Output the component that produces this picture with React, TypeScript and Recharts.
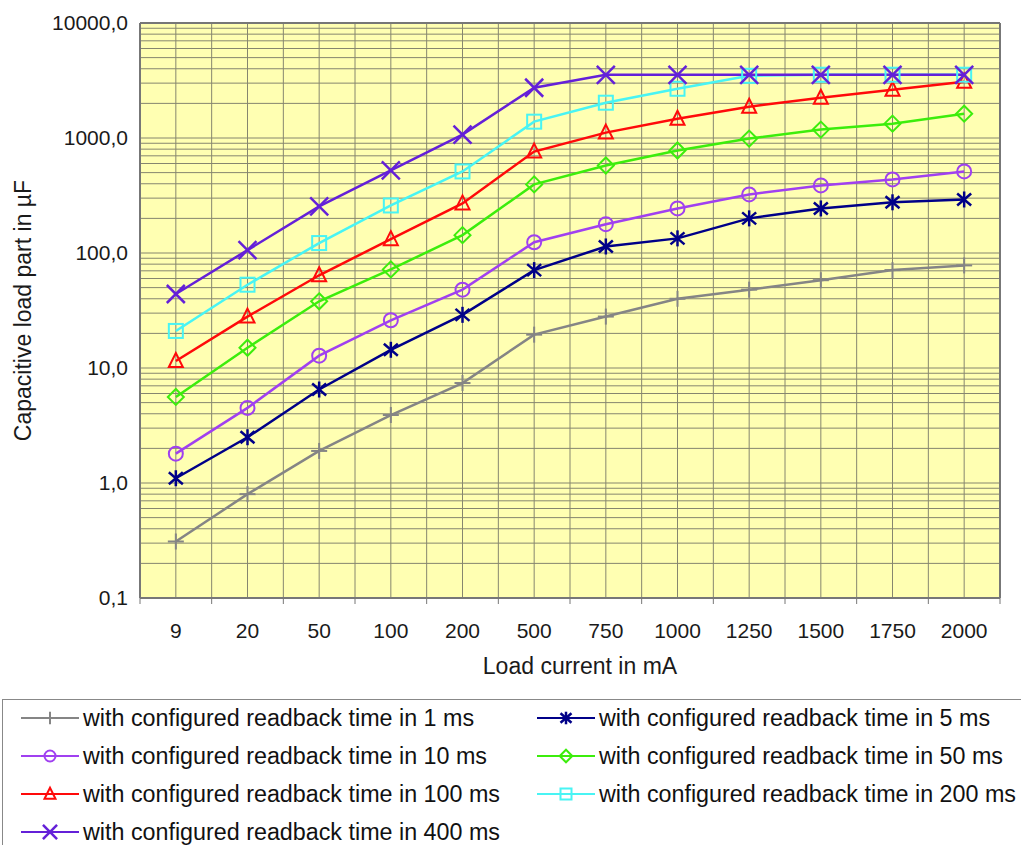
import React from "react";
import {
  CartesianGrid,
  Label,
  Line,
  LineChart,
  ReferenceLine,
  XAxis,
  YAxis,
} from "recharts";

// load current (mA) categories on the x axis
const CURRENTS = ["9", "20", "50", "100", "200", "500", "750", "1000", "1250", "1500", "1750", "2000"];

// capacitive load part in µF, one list per configured readback time
const T1MS = [0.31, 0.8, 1.9, 3.9, 7.4, 19.5, 28, 40, 48, 58, 71, 78];
const T5MS = [1.1, 2.5, 6.5, 14.4, 29, 71, 114, 134, 200, 244, 276, 292];
const T10MS = [1.8, 4.5, 12.8, 26, 48, 124, 178, 244, 323, 387, 436, 512];
const T50MS = [5.6, 15, 38, 72, 143, 395, 577, 778, 988, 1183, 1333, 1627];
const T100MS = [11.5, 28, 64, 132, 270, 762, 1114, 1472, 1871, 2239, 2626, 3080];
const T200MS = [21, 53, 122, 259, 512, 1387, 2027, 2680, 3474, 3550, 3550, 3550];
const T400MS = [44, 106, 254, 522, 1070, 2735, 3540, 3540, 3540, 3540, 3540, 3540];

// labelled decades and the log grid between them
const Y_LABELS = [0.1, 1, 10, 100, 1000, 10000];
const Y_GRID = [0.1, 1, 10, 100, 1000]
  .flatMap((d) => [1, 2, 3, 4, 5, 6, 7, 8, 9].map((m) => +(m * d).toPrecision(3)))
  .concat(10000);
// x ticks: category centres (labelled) and the boundaries between them
const X_TICKS = CURRENTS.flatMap((_, i) => [i - 0.5, i]).concat(CURRENTS.length - 0.5);

type Kind = "plus" | "star" | "circle" | "diamond" | "triangle" | "square" | "x";

const SERIES: { key: string; label: string; color: string; kind: Kind; values: number[] }[] = [
  { key: "t1", label: "with configured readback time in 1 ms", color: "#858585", kind: "plus", values: T1MS },
  { key: "t5", label: "with configured readback time in 5 ms", color: "#000088", kind: "star", values: T5MS },
  { key: "t10", label: "with configured readback time in 10 ms", color: "#a040f0", kind: "circle", values: T10MS },
  { key: "t50", label: "with configured readback time in 50 ms", color: "#3ced0c", kind: "diamond", values: T50MS },
  { key: "t100", label: "with configured readback time in 100 ms", color: "#ff0a0a", kind: "triangle", values: T100MS },
  { key: "t200", label: "with configured readback time in 200 ms", color: "#48f4f4", kind: "square", values: T200MS },
  { key: "t400", label: "with configured readback time in 400 ms", color: "#6420d8", kind: "x", values: T400MS },
];

const data = CURRENTS.map((c, i) => {
  const row: Record<string, number | string> = { idx: i, current: c };
  SERIES.forEach((s) => (row[s.key] = s.values[i]));
  return row;
});

const FONT = '"Liberation Sans", Arial, sans-serif';
const PLOT_BG = "#ffffb2";
const GRID = "#86866f";
const FRAME = "#777";

function Marker({ kind, cx, cy, color, r = 7 }: { kind: Kind; cx: number; cy: number; color: string; r?: number }) {
  const p = { stroke: color, strokeWidth: 2, fill: "none" };
  const k = r / 7;
  switch (kind) {
    case "plus":
      return (
        <g {...p}>
          <line x1={cx - 8 * k} y1={cy} x2={cx + 8 * k} y2={cy} />
          <line x1={cx} y1={cy - 8 * k} x2={cx} y2={cy + 8 * k} />
        </g>
      );
    case "star":
      return (
        <g {...p} strokeWidth={2.5}>
          <line x1={cx} y1={cy - 8 * k} x2={cx} y2={cy + 8 * k} />
          <line x1={cx - 7 * k} y1={cy - 6 * k} x2={cx + 7 * k} y2={cy + 6 * k} />
          <line x1={cx - 7 * k} y1={cy + 6 * k} x2={cx + 7 * k} y2={cy - 6 * k} />
        </g>
      );
    case "circle":
      return <circle cx={cx} cy={cy} r={r} {...p} />;
    case "diamond":
      return (
        <polygon
          points={`${cx},${cy - 8 * k} ${cx + 8 * k},${cy} ${cx},${cy + 8 * k} ${cx - 8 * k},${cy}`}
          {...p}
        />
      );
    case "triangle":
      return <polygon points={`${cx},${cy - 8 * k} ${cx + 7 * k},${cy + 6 * k} ${cx - 7 * k},${cy + 6 * k}`} {...p} />;
    case "square":
      return <rect x={cx - r} y={cy - r} width={2 * r} height={2 * r} {...p} />;
    case "x":
      return (
        <g {...p} strokeWidth={2.5}>
          <line x1={cx - 9 * k} y1={cy - 9 * k} x2={cx + 9 * k} y2={cy + 9 * k} />
          <line x1={cx - 9 * k} y1={cy + 9 * k} x2={cx + 9 * k} y2={cy - 9 * k} />
        </g>
      );
  }
  return null;
}

function XTick(props: any) {
  const { x, y, payload } = props;
  const v = payload.value as number;
  if (!Number.isInteger(v)) {
    // boundary tick mark under the axis
    return <line x1={x} y1={y - 8} x2={x} y2={y - 2} stroke={FRAME} strokeWidth={1} />;
  }
  return (
    <text x={x} y={y + 32} textAnchor="middle" fontSize={21} fontFamily={FONT} fill="#1a1a1a">
      {CURRENTS[v]}
    </text>
  );
}

function fmtY(v: number) {
  return Y_LABELS.includes(v) ? v.toFixed(1).replace(".", ",") : "";
}

export default function App() {
  return (
    <div style={{ position: "absolute", left: 0, top: 0, width: 1021, height: 845, background: "#fff", overflow: "hidden" }}>
      <LineChart width={1021} height={690} data={data} margin={{ top: 23, right: 21, bottom: 0, left: 0 }}>
        <CartesianGrid fill={PLOT_BG} stroke={GRID} strokeWidth={1} />
        <XAxis
          dataKey="idx"
          type="number"
          domain={[-0.5, CURRENTS.length - 0.5]}
          ticks={X_TICKS}
          interval={0}
          tick={<XTick />}
          tickLine={false}
          tickSize={6}
          tickMargin={2}
          height={92}
          axisLine={{ stroke: FRAME, strokeWidth: 2 }}
        >
          <Label
            content={({ viewBox }: any) => (
              <text
                x={viewBox.x + viewBox.width / 2 + 10}
                y={viewBox.y + 76}
                textAnchor="middle"
                fontSize={23}
                fontFamily={FONT}
                fill="#1a1a1a"
              >
                Load current in mA
              </text>
            )}
          />
        </XAxis>
        <YAxis
          scale="log"
          domain={[0.1, 10000]}
          allowDataOverflow
          ticks={Y_GRID}
          interval={0}
          tickFormatter={fmtY}
          tick={{ fontSize: 21, fontFamily: FONT, fill: "#1a1a1a" }}
          tickLine={false}
          tickSize={4}
          tickMargin={8}
          width={140}
          axisLine={{ stroke: FRAME, strokeWidth: 2 }}
        >
          <Label
            content={({ viewBox }: any) => {
              const cx = viewBox.x + 23;
              const cy = viewBox.y + viewBox.height / 2;
              return (
                <text
                  x={cx}
                  y={cy}
                  transform={`rotate(-90 ${cx} ${cy})`}
                  textAnchor="middle"
                  dominantBaseline="central"
                  fontSize={23}
                  fontFamily={FONT}
                  fill="#1a1a1a"
                >
                  Capacitive load part in µF
                </text>
              );
            }}
          />
        </YAxis>
        <ReferenceLine y={10000} stroke={FRAME} strokeWidth={2} />
        <ReferenceLine x={CURRENTS.length - 0.5} stroke={FRAME} strokeWidth={2} />
        {SERIES.map((s) => (
          <Line
            key={s.key}
            dataKey={s.key}
            stroke={s.color}
            strokeWidth={2.5}
            isAnimationActive={false}
            dot={(p: any) => <Marker key={`${s.key}-${p.index}`} kind={s.kind} cx={p.cx} cy={p.cy} color={s.color} />}
            activeDot={false}
          />
        ))}
      </LineChart>

      <div
        style={{
          position: "absolute",
          left: 2,
          top: 699,
          width: 1040,
          height: 170,
          borderTop: "1.5px solid #888",
          borderLeft: "1.5px solid #888",
          fontFamily: FONT,
          fontSize: 23.3,
          color: "#111",
        }}
      >
        {SERIES.map((s, i) => {
          const col = i % 2;
          const row = Math.floor(i / 2);
          return (
            <div
              key={s.key}
              style={{
                position: "absolute",
                left: col === 0 ? 16 : 532,
                top: 18 + row * 38 - 14,
                height: 28,
                display: "flex",
                alignItems: "center",
                whiteSpace: "nowrap",
              }}
            >
              <svg width={62} height={28} style={{ flex: "none" }}>
                <line x1={2} y1={14} x2={60} y2={14} stroke={s.color} strokeWidth={2} />
                <Marker kind={s.kind} cx={31} cy={14} color={s.color} r={5.5} />
              </svg>
              <span style={{ marginLeft: 2 }}>{s.label}</span>
            </div>
          );
        })}
      </div>
    </div>
  );
}
